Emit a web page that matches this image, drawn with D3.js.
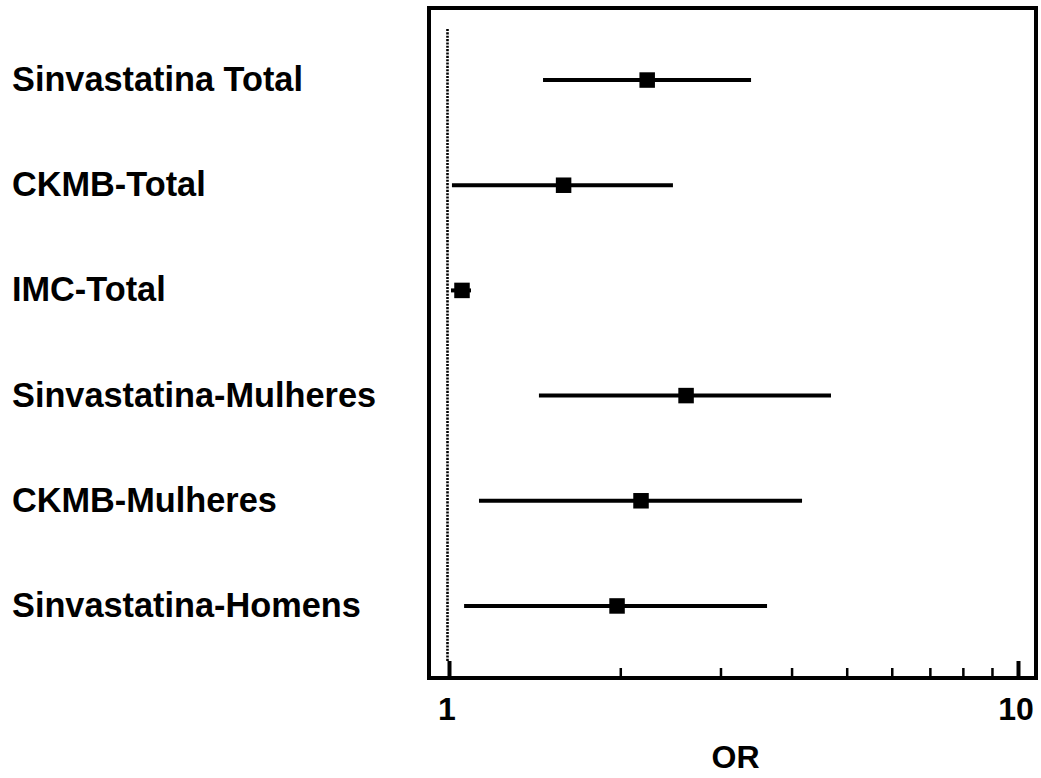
<!DOCTYPE html>
<html>
<head>
<meta charset="utf-8">
<script src="https://cdn.jsdelivr.net/npm/d3@7"></script>
<style>
  html, body { margin: 0; padding: 0; background: #fff; }
  svg { display: block; }
  text { font-family: "Liberation Sans", Arial, sans-serif; font-weight: bold; fill: #000; }
</style>
</head>
<body>
<svg id="chart" width="1041" height="778"></svg>
<script>
const categories = ["Sinvastatina Total", "CKMB-Total", "IMC-Total", "Sinvastatina-Mulheres", "CKMB-Mulheres", "Sinvastatina-Homens"];
const orValues = [2.23, 1.59, 1.054, 2.61, 2.175, 1.974];
const lowerCI  = [1.463, 1.012, 1.008, 1.439, 1.129, 1.063];
const upperCI  = [3.395, 2.475, 1.093, 4.692, 4.173, 3.622];
const majorTicks = [1, 10];
const minorTicks = [2, 3, 4, 5, 6, 7, 8, 9];
const xTitle = "OR";

const svg = d3.select("#chart");
const frame = { left: 429, right: 1036, top: 8, bottom: 678 };

const x = d3.scaleLog().domain([1, 10]).range([449, 1018]);
const y = d3.scalePoint().domain(categories).range([frame.top, frame.bottom]).padding(0.685);

// reference dotted line at OR = 1
svg.append("line")
  .attr("x1", x(1) - 1.5).attr("x2", x(1) - 1.5)
  .attr("y1", 29).attr("y2", frame.bottom - 17)
  .attr("stroke", "#000").attr("stroke-width", 2.6)
  .attr("stroke-dasharray", "2.1,1.25");

// minor ticks (inside, from the bottom border)
const minorAxis = d3.axisTop(x).tickValues(minorTicks).tickSize(10).tickFormat("");
const gMinor = svg.append("g").attr("transform", `translate(0,${frame.bottom})`).call(minorAxis);
gMinor.select(".domain").remove();
gMinor.selectAll(".tick line").attr("stroke", "#000").attr("stroke-width", 2.5);

const majorAxis = d3.axisTop(x).tickValues(majorTicks).tickSize(17).tickFormat("");
const gMajor = svg.append("g").attr("transform", `translate(0,${frame.bottom})`).call(majorAxis);
gMajor.select(".domain").remove();
gMajor.selectAll(".tick line").attr("stroke", "#000").attr("stroke-width", 4);

// tick labels
svg.append("g").selectAll("text").data(majorTicks).join("text")
  .attr("x", d => x(d) - 2)
  .attr("y", 720)
  .attr("text-anchor", "middle")
  .attr("font-size", 32)
  .text(d => d3.format("d")(d));

// frame
svg.append("rect")
  .attr("x", frame.left).attr("y", frame.top)
  .attr("width", frame.right - frame.left).attr("height", frame.bottom - frame.top)
  .attr("fill", "none").attr("stroke", "#000").attr("stroke-width", 4);

// error bars
const rows = categories.map((c, i) => ({ c, or: orValues[i], lo: lowerCI[i], hi: upperCI[i] }));
svg.append("g").selectAll("line").data(rows).join("line")
  .attr("x1", d => x(d.lo)).attr("x2", d => x(d.hi))
  .attr("y1", d => y(d.c)).attr("y2", d => y(d.c))
  .attr("stroke", "#000").attr("stroke-width", 4);

const sq = 15.5;
svg.append("g").selectAll("rect").data(rows).join("rect")
  .attr("x", d => x(d.or) - sq / 2).attr("y", d => y(d.c) - sq / 2)
  .attr("width", sq).attr("height", sq)
  .attr("fill", "#000");

// category labels
svg.append("g").selectAll("text").data(categories).join("text")
  .attr("x", 12)
  .attr("y", d => y(d) + 11)
  .attr("font-size", 34.3)
  .text(d => d);

// axis title
svg.append("text")
  .attr("x", (frame.left + frame.right) / 2 + 3)
  .attr("y", 768)
  .attr("text-anchor", "middle")
  .attr("font-size", 32)
  .text(xTitle);
</script>
</body>
</html>
